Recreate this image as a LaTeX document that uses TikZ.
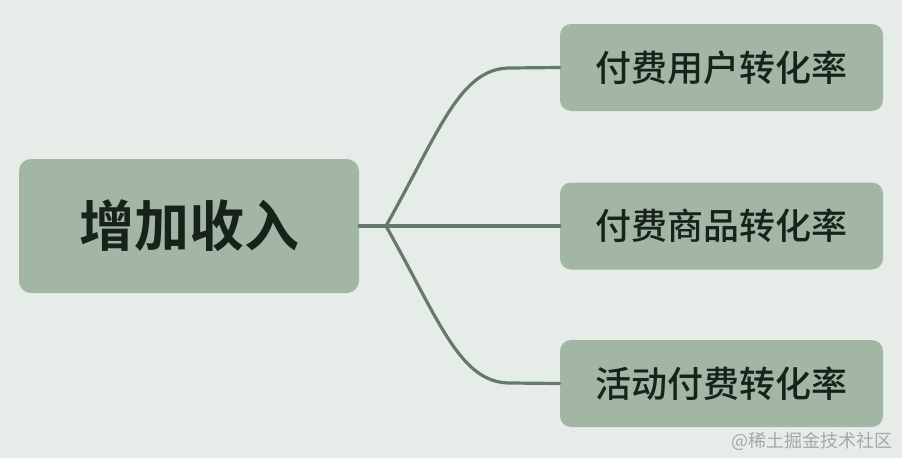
\documentclass[tikz,border=0pt]{standalone}
\usepackage{fontspec}
\setmainfont{Noto Sans CJK SC}[BoldFont={Noto Sans CJK SC Medium}]
\newfontfamily\heavyfont{Noto Sans CJK SC Bold}
\usetikzlibrary{calc}
\definecolor{bgcol}{HTML}{E6EDE8}
\definecolor{boxcol}{HTML}{A3B6A6}
\definecolor{linecol}{HTML}{647A6A}
\definecolor{txtcol}{HTML}{16221A}
\definecolor{markcol}{HTML}{A2AAA5}

\begin{document}
\begin{tikzpicture}[x=1pt, y=-1pt,
	topic/.style={fill=boxcol, rounded corners=12pt, inner sep=0pt, text=txtcol, font=\heavyfont\fontsize{55}{60}\selectfont, minimum width=340pt, minimum height=134pt},
	subtopic/.style={fill=boxcol, rounded corners=11pt, inner sep=0pt, text=txtcol, font=\bfseries\fontsize{36}{40}\selectfont, minimum width=323pt, minimum height=87pt},
	branch/.style={draw=linecol, line width=3.2pt, line cap=round}]
	\fill[bgcol] (0,0) rectangle (902,458);
	\useasboundingbox (0,0) rectangle (902,458);
	\node [topic] (root) at (189,226) {增加收入};
	\node [subtopic] (user) at (721.5,67.5) {付费用户转化率};
	\node [subtopic] (goods) at (721.5,226) {付费商品转化率};
	\node [subtopic] (event) at (721.5,383.5) {活动付费转化率};
	\coordinate (fork) at (386,226);
	\draw [branch] (root.east) -- (fork) -- (goods.west);
	\draw [branch] (fork) .. controls ($(fork)+(54,-96)$) and ($(fork)+(74,-158)$) .. ($(fork)+(124,-158)$) -- (user.west);
	\draw [branch] (fork) .. controls ($(fork)+(54,96)$) and ($(fork)+(74,157)$) .. ($(fork)+(124,157)$) -- (event.west);
	\path (896,441) node [anchor=east, text=markcol, font=\fontsize{18}{20}\selectfont] {@稀土掘金技术社区};
\end{tikzpicture}
\end{document}
